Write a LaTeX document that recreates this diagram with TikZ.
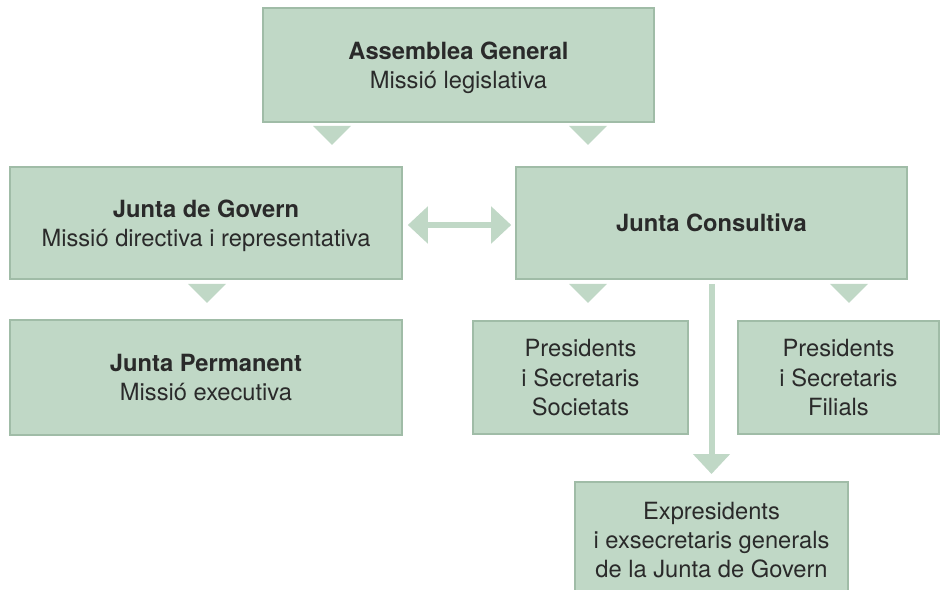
\documentclass[tikz,border=0pt]{standalone}
\usepackage{fontspec}
\setmainfont{TeX Gyre Heros}
\usetikzlibrary{arrows.meta,calc}
\definecolor{boxfill}{HTML}{C0D8C6}
\definecolor{boxedge}{HTML}{A0BCA7}
\definecolor{txt}{HTML}{2A2A2A}
\newcommand{\downtri}[1]{\fill[boxfill] #1 ++(-19,0) -- ++(38,0) -- ++(-19,19) -- cycle;}
\begin{document}
\begin{tikzpicture}[x=0.5pt,y=-0.5pt,
  box/.style={draw=boxedge, line width=0.8pt, fill=boxfill, inner sep=0pt,
    align=center, text=txt, text depth=0pt, font=\fontsize{11.85}{14.7}\selectfont},
  conn/.style={draw=boxfill, line width=3pt,
    arrows={-Triangle[length=10pt,width=18pt]}},
  dconn/.style={draw=boxfill, line width=3pt,
    arrows={Triangle[length=10pt,width=18pt]-Triangle[length=10pt,width=18pt]}}]
\useasboundingbox (0,0) rectangle (941,589);
\fill[white] (0,0) rectangle (941,589);

\node[box, minimum width=195.5pt, minimum height=57pt] (A) at (458.5,65)
  {\textbf{Assemblea General}\\Missió legislativa};
\node[box, minimum width=196pt, minimum height=56pt] (G) at (206,223)
  {\textbf{Junta de Govern}\\Missió directiva i representativa};
\node[box, minimum width=195.5pt, minimum height=56pt] (C) at (711.5,223)
  {\textbf{Junta Consultiva}};
\node[box, minimum width=196pt, minimum height=57.5pt] (P) at (206,377.5)
  {\textbf{Junta Permanent}\\Missió executiva};
\node[box, minimum width=107.5pt, minimum height=56.5pt] (S) at (580.5,377.5)
  {Presidents\\i Secretaris\\Societats};
\node[box, minimum width=100.5pt, minimum height=56.5pt] (F) at (838.5,377.5)
  {Presidents\\i Secretaris\\Filials};
\node[box, minimum width=136.5pt, minimum height=58pt, anchor=north] (E) at (711.5,481)
  {Expresidents\\i exsecretaris generals\\de la Junta de Govern};

\downtri{($(A.south)+(-126.5,3)$)}
\downtri{($(A.south)+(129.5,3)$)}
\downtri{($(G.south)+(1,4)$)}
\downtri{($(C.south)+(-123.5,4)$)}
\downtri{($(C.south)+(137.5,4)$)}

\draw[dconn, shorten <=2.5pt, shorten >=2pt] ([yshift=-1pt]G.east) -- ([yshift=-1pt]C.west);
\draw[conn, shorten <=2pt, shorten >=3.5pt] (C.south) -- (E.north);
\end{tikzpicture}
\end{document}
